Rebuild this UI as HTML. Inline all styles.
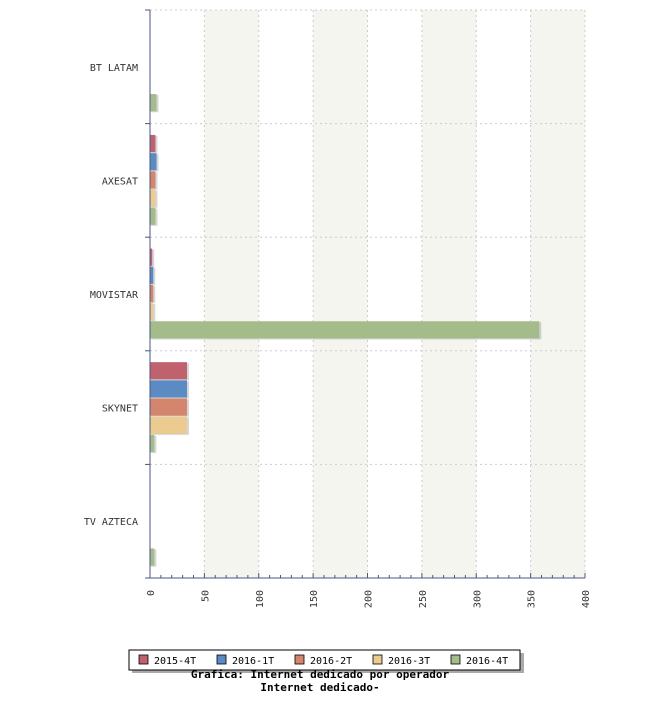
<!DOCTYPE html>
<html><head><meta charset="utf-8"><style>
body{margin:0;background:#fff;width:650px;height:700px;overflow:hidden}
text{font-family:"DejaVu Sans Mono","Liberation Mono",monospace;}
</style></head><body>
<svg id="chart" width="650" height="700" xmlns="http://www.w3.org/2000/svg"></svg>
<script>
const categories=["BT LATAM","AXESAT","MOVISTAR","SKYNET","TV AZTECA"];
const seriesNames=["2015-4T","2016-1T","2016-2T","2016-3T","2016-4T"];
const s2015_4T=[0,5,2,34,0];
const s2016_1T=[0,6,3,34,0];
const s2016_2T=[0,5,3,34,0];
const s2016_3T=[0,5,3,34,0];
const s2016_4T=[6,5,358,4,4];
const seriesValues=[s2015_4T,s2016_1T,s2016_2T,s2016_3T,s2016_4T];
const colors=["#c0626e","#5b8bc2","#d4856e","#ebcb8f","#a3bc8a"];
const ticks=[0,50,100,150,200,250,300,350,400];

const svg=document.getElementById('chart');
const NS="http://www.w3.org/2000/svg";
const L=150,R=585,T=10,B=578,MAX=400;
const x=v=>L+(v/MAX)*(R-L);
const gh=(B-T)/categories.length;
function mk(tag,attrs,parent){const e=document.createElementNS(NS,tag);for(const k in attrs)e.setAttribute(k,attrs[k]);(parent||svg).appendChild(e);return e;}

// bands
for(let i=0;i<ticks.length-1;i++){ if(i%2===1){
 const r=mk('rect',{x:x(ticks[i]),y:T,width:x(ticks[i+1])-x(ticks[i]),height:B-T,fill:'#f5f5f0'});
 
 
}}
// vertical grid
ticks.forEach((t,i)=>{ if(i>0){
 const l=mk('line',{x1:x(t),x2:x(t),y1:T,y2:B,stroke:'#ccc','stroke-dasharray':'2,3'});
 
 
}});
// horizontal grid
for(let i=0;i<categories.length;i++){
 const y=T+gh*i;
 const l=mk('line',{x1:L,x2:R,y1:y,y2:y,stroke:'#ccc','stroke-dasharray':'2,3'});
 
 
}
// bars
const pad=gh*0.1, bh=(gh-2*pad)/seriesNames.length;
categories.forEach((c,ci)=>{
 seriesValues.forEach((arr,si)=>{
  const v=arr[ci]; if(v<=0) return;
  const y=T+gh*ci+pad+bh*si;
  const w=x(v)-L;
  const sh=mk('rect',{x:L+1,y:y+1,width:w+1,height:bh-1,fill:'#999','fill-opacity':0.4});
  
  
  const b=mk('rect',{x:L,y:y,width:w,height:bh-1,fill:colors[si]});
  
  
 });
 const t=mk('text',{x:138,y:T+gh*ci+gh/2+4,'text-anchor':'end','font-size':10,fill:'#333'});
 t.textContent=c;
 
 
});
// axes
const ya=mk('line',{x1:L,x2:L,y1:T,y2:B,stroke:'#4a5580'});


for(let i=0;i<=categories.length;i++){
 const y=T+gh*i;
 const tk=mk('line',{x1:L-5,x2:L,y1:y,y2:y,stroke:'#4a5580'});
 
 
}
const xa=mk('line',{x1:L-5,x2:R,y1:B,y2:B,stroke:'#4a5580'});


for(let v=0;v<=MAX;v+=10){
 const major=v%50===0;
 const tk=mk('line',{x1:x(v),x2:x(v),y1:B,y2:B-(major?5:3),stroke:'#4a5580'});
 
 
}
ticks.forEach(t=>{
 const xx=x(t)+4,yy=590;
 const tl=mk('text',{x:xx,y:yy,'text-anchor':'end','font-size':10,fill:'#333',transform:`rotate(-90 ${xx} ${yy})`});
 tl.textContent=t;
 
 
});
// legend
const lg=mk('g',{});


mk('rect',{x:132,y:653,width:392,height:20,fill:'#aaa'},lg);
mk('rect',{x:129,y:650,width:391,height:20,fill:'#fff',stroke:'#000'},lg);
const lx=[139,217,295,373,451];
seriesNames.forEach((n,i)=>{
 const g=mk('g',{},lg);
 
 
 mk('rect',{x:lx[i],y:655,width:9,height:9,fill:colors[i],stroke:'#000','stroke-width':0.8},g);
 const t=mk('text',{x:lx[i]+15,y:664,'font-size':10,fill:'#000'},g);
 t.textContent=n;
});
const t1=mk('text',{x:320,y:678,'text-anchor':'middle','font-size':11,'font-weight':'bold',fill:'#000'});
t1.textContent="Grafica: Internet dedicado por operador";


const t2=mk('text',{x:320,y:691,'text-anchor':'middle','font-size':11,'font-weight':'bold',fill:'#000'});
t2.textContent="Internet dedicado-";


</script>
</body></html>
